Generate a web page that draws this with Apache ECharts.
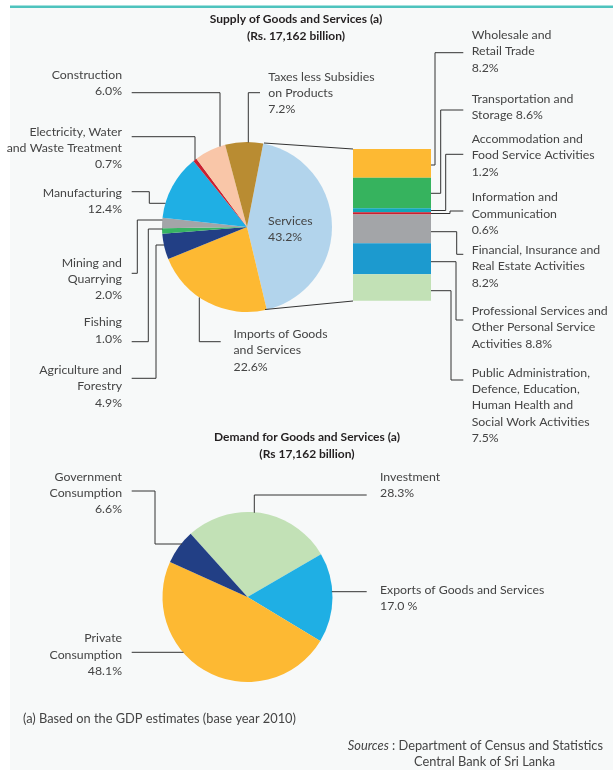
<!DOCTYPE html>
<html><head><meta charset="utf-8">
<script src="https://cdn.jsdelivr.net/npm/echarts@6/dist/echarts.min.js"></script>
<style>html,body{margin:0;padding:0;background:#fff}#c{width:613px;height:770px}</style>
</head><body><div id="c"></div>
<script>
// ---------- data ----------
const supplyNames = ['Services', 'Imports of Goods\nand Services', 'Agriculture and\nForestry', 'Fishing',
  'Mining and\nQuarrying', 'Manufacturing', 'Electricity, Water\nand Waste Treatment', 'Construction',
  'Taxes less Subsidies\non Products'];
const supplyValues = [43.2, 22.6, 4.9, 1.0, 2.0, 12.4, 0.7, 6.0, 7.2];

const servicesNames = ['Wholesale and\nRetail Trade', 'Transportation and\nStorage', 'Accommodation and\nFood Service Activities',
  'Information and\nCommunication', 'Financial, Insurance and\nReal Estate Activities',
  'Professional Services and\nOther Personal Service\nActivities',
  'Public Administration,\nDefence, Education,\nHuman Health and\nSocial Work Activities'];
const servicesValues = [8.2, 8.6, 1.2, 0.6, 8.2, 8.8, 7.5];

const demandNames = ['Investment', 'Exports of Goods and Services', 'Private\nConsumption', 'Government\nConsumption'];
const demandValues = [28.3, 17.0, 48.1, 6.6];

const supplyTitle = ['Supply of Goods and Services (a)', '(Rs. 17,162 billion)'];
const demandTitle = ['Demand for Goods and Services (a)', '(Rs 17,162 billion)'];
const footnote = '(a) Based on the GDP estimates (base year 2010)';
const sources = ['Sources', ': Department of Census and Statistics', 'Central Bank of Sri Lanka'];

// ---------- styles ----------
const supplyColors = ['#B2D4EC', '#FDB933', '#223F85', '#37B463', '#A3A5A8', '#1FAFE4', '#C92130', '#F9C6A8', '#B98C32'];
const servicesColors = ['#FDB933', '#36B35E', '#10A6B9', '#C92130', '#A3A5A8', '#1C9ACF', '#C2E1B6'];
const demandColors = ['#C2E1B6', '#1FAFE4', '#FDB933', '#223F85'];

const FONT = 'Lato, "Noto Sans", sans-serif';
const FS = 12.3;
const FS_NOTE = 12.8;
const LH = 16.3;
const TXT = '#444444';
const pct = v => v.toFixed(1) + '%';
const lbl = (name, v, sep) => name + (sep || '\n') + pct(v);

function text(str, x, y1, align, size, extraStyle) {
  return {
    type: 'text', x: x, y: y1 - LH / 2, z: 20, silent: true,
    style: Object.assign({ text: str, fill: TXT, fontSize: size || FS, fontFamily: FONT, align: align || 'left', verticalAlign: 'top', lineHeight: LH }, extraStyle || {})
  };
}
function line(pts) {
  return { type: 'polyline', z: 15, silent: true, shape: { points: pts }, style: { stroke: '#333', lineWidth: 1, fill: null } };
}
const titleStyle = { fill: '#231F20', fontWeight: 'bold' };

const graphics = [
  { type: 'rect', z: -10, silent: true, shape: { x: 10, y: 7, width: 603, height: 763 }, style: { fill: '#F7F9F9' } },
  { type: 'rect', z: -9, silent: true, shape: { x: 10, y: 5.5, width: 603, height: 2.6 }, style: { fill: '#4EC3BD' } },
  // titles
  text(supplyTitle.join('\n'), 296, 19.5, 'center', 12, titleStyle),
  text(demandTitle.join('\n'), 307, 437.5, 'center', 12, titleStyle),
  // supply labels
  text(supplyNames[0] + '\n' + pct(supplyValues[0]), 268, 221, 'left'),
  text(lbl(supplyNames[1], supplyValues[1]), 233.5, 334, 'left'),
  text(lbl(supplyNames[2], supplyValues[2]), 122, 370, 'right'),
  text(lbl(supplyNames[3], supplyValues[3]), 122, 322.3, 'right'),
  text(lbl(supplyNames[4], supplyValues[4]), 122, 262.7, 'right'),
  text(lbl(supplyNames[5], supplyValues[5]), 122, 192.7, 'right'),
  text(lbl(supplyNames[6], supplyValues[6]), 122, 131.7, 'right'),
  text(lbl(supplyNames[7], supplyValues[7]), 122, 75.2, 'right'),
  text(lbl(supplyNames[8], supplyValues[8]), 268.3, 76.7, 'left'),
  // services breakdown labels
  text(lbl(servicesNames[0], servicesValues[0]), 471.7, 35, 'left'),
  text(lbl(servicesNames[1], servicesValues[1], ' '), 471.7, 99, 'left'),
  text(lbl(servicesNames[2], servicesValues[2]), 471.7, 139, 'left'),
  text(lbl(servicesNames[3], servicesValues[3]), 471.7, 197.3, 'left'),
  text(lbl(servicesNames[4], servicesValues[4]), 471.7, 250, 'left'),
  text(lbl(servicesNames[5], servicesValues[5], ' '), 471.7, 311, 'left'),
  text(lbl(servicesNames[6], servicesValues[6]), 471.7, 372.7, 'left'),
  // demand labels
  text(lbl(demandNames[0], demandValues[0]), 380, 476.7, 'left'),
  text(demandNames[1] + '\n' + demandValues[1].toFixed(1) + ' %', 380, 590, 'left'),
  text(lbl(demandNames[2], demandValues[2]), 122, 638.3, 'right'),
  text(lbl(demandNames[3], demandValues[3]), 122, 476.7, 'right'),
  // footnotes
  text(footnote, 23, 719, 'left', FS_NOTE),
  text('{i|' + sources[0] + '} ' + sources[1], 603, 746, 'right', FS_NOTE,
    { rich: { i: { fontStyle: 'italic', fontSize: FS_NOTE, fontFamily: FONT, fill: TXT } } }),
  text(sources[2], 414, 762, 'left', FS_NOTE),
  // leader lines (supply)
  line([[131.7, 92.7], [220, 92.7], [220, 146.5]]),
  line([[260, 92.7], [248.3, 92.7], [248.3, 142.5]]),
  line([[131.7, 136.7], [195, 136.7], [195, 160]]),
  line([[131.7, 191.7], [149.3, 191.7], [149.3, 203.3], [165.5, 203.3]]),
  line([[162.5, 220], [137.3, 220], [137.3, 273.3], [131.7, 273.3]]),
  line([[162.5, 229], [148.3, 229], [148.3, 341.7], [131.7, 341.7]]),
  line([[164, 245], [156, 245], [156, 378.3], [131.7, 378.3]]),
  line([[199.3, 297.5], [199.3, 341.7], [220.7, 341.7]]),
  // pie-to-bar connectors
  line([[264, 143], [353, 149]]),
  line([[265, 309.5], [353, 301]]),
  // services label lines
  line([[463.3, 52.7], [435, 52.7], [435, 165], [431, 165]]),
  line([[463.3, 110], [440.7, 110], [440.7, 193.3], [431, 193.3]]),
  line([[463.3, 154.3], [445.7, 154.3], [445.7, 210.5], [431, 210.5]]),
  line([[463.3, 211], [450, 211], [450, 213.5], [431, 213.5]]),
  line([[431, 231.7], [456.7, 231.7], [456.7, 254.3], [463.3, 254.3]]),
  line([[431, 261.7], [456, 261.7], [456, 320], [463.3, 320]]),
  line([[431, 290.7], [451, 290.7], [451, 380], [463.3, 380]]),
  // demand lines
  line([[131.7, 491], [155, 491], [155, 544], [182, 544]]),
  line([[366.7, 495], [254.3, 495], [254.3, 512.8]]),
  line([[331.8, 591.7], [366.7, 591.7]]),
  line([[131.7, 652.3], [183.5, 652.3]])
];

const servicesTotal = servicesValues.reduce((a, b) => a + b, 0);

const option = {
  backgroundColor: '#ffffff',
  animation: false,
  graphic: { elements: graphics },
  grid: { left: 353, top: 149, width: 78, height: 151.7, containLabel: false },
  xAxis: { type: 'category', data: ['Services'], show: false },
  yAxis: { type: 'value', min: 0, max: servicesTotal, inverse: true, show: false },
  series: [
    {
      type: 'pie', center: [247, 227], radius: 85, startAngle: 79, clockwise: true, silent: true,
      label: { show: false }, labelLine: { show: false },
      data: supplyNames.map((n, i) => ({ name: n, value: supplyValues[i], itemStyle: { color: supplyColors[i] } }))
    },
    ...servicesValues.map((v, i) => ({
      type: 'bar', stack: 'services', name: servicesNames[i], data: [v], barWidth: '100%', silent: true,
      itemStyle: { color: servicesColors[i] }
    })),
    {
      type: 'pie', center: [247.5, 597], radius: 85, startAngle: 132, clockwise: true, silent: true,
      label: { show: false }, labelLine: { show: false },
      data: demandNames.map((n, i) => ({ name: n, value: demandValues[i], itemStyle: { color: demandColors[i] } }))
    }
  ]
};

const chart = echarts.init(document.getElementById('c'), null, { renderer: 'canvas' });
chart.setOption(option);
</script>
</body></html>
